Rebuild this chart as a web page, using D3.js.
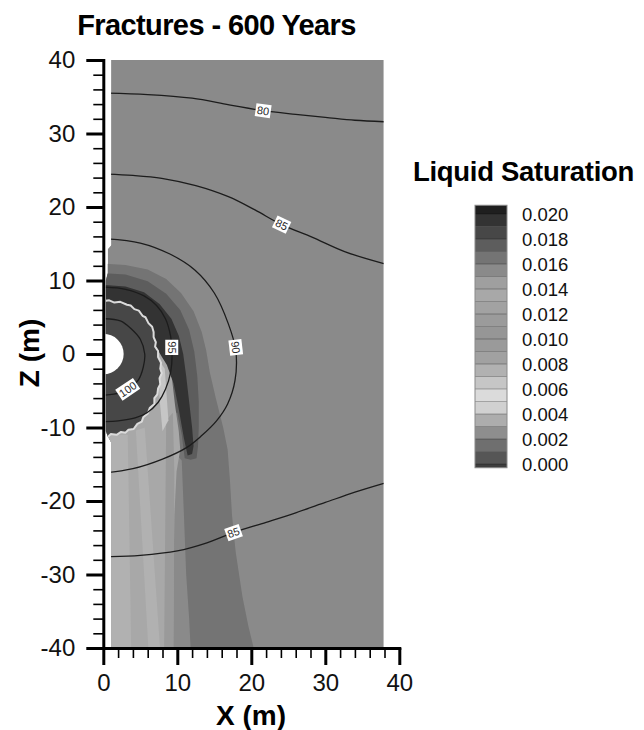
<!DOCTYPE html>
<html><head><meta charset="utf-8">
<script src="https://cdn.jsdelivr.net/npm/d3@7"></script>
<style>
html,body{margin:0;padding:0;background:#fff}
svg{display:block}
text{font-family:"Liberation Sans",Arial,Helvetica,sans-serif}
</style>
</head><body>
<svg id="chart" width="644" height="730"></svg>
<script>
// ---------------- data ----------------
const xTicks = [0, 10, 20, 30, 40];
const zTicks = [-40, -30, -20, -10, 0, 10, 20, 30, 40];
const xMinorTicks = [2,4,6,8,12,14,16,18,22,24,26,28,32,34,36,38];
const zMinorTicks = [-38,-36,-34,-32,-28,-26,-24,-22,-18,-16,-14,-12,-8,-6,-4,-2,2,4,6,8,12,14,16,18,22,24,26,28,32,34,36,38];

// liquid saturation contour levels and legend colours (index 0 = below 0.000)
const legendLevels = [0.000,0.001,0.002,0.003,0.004,0.005,0.006,0.007,0.008,0.009,0.010,
                      0.011,0.012,0.013,0.014,0.015,0.016,0.017,0.018,0.019,0.020];
const legendLabels = [0.000,0.002,0.004,0.006,0.008,0.010,0.012,0.014,0.016,0.018,0.020];
const legendColors = ["#3e3e3e","#565656","#6f6f6f","#8e8e8e","#adadad","#d1d1d1","#dbdbdb",
                      "#c6c6c6","#b1b1b1","#a1a1a1","#9a9a9a","#969696","#9b9b9b","#a2a2a2",
                      "#a8a8a8","#9f9f9f","#8a8a8a","#747474","#5d5d5d","#474747","#333333","#1f1f1f"];
const legendExtent = [-0.0003, 0.0207];

// mesh outline (x, z in metres)
const meshOutline = [[1.05,40],[37.9,40],[37.9,-40],[1.05,-40],[1.05,-12],[0.6,-11.2],[0.35,-10.5],
                     [0.35,10],[0.6,11],[0.6,14.3],[1.05,14.8]];
const drift = {x: 0, z: 0, r: 2.75};

// saturation zones: outline [x,z] and saturation value
const ambientSat = 0.0155;
const haloZone = [[0,12.3],[3,12.1],[6,11.5],[8.5,10.2],[10.5,8.3],[12.2,5.8],[13.3,3],[13.9,0.5],
  [14.4,-2.5],[15.2,-6],[16.2,-10],[16.8,-13],[17.1,-17],[17.4,-22],[17.9,-27],[18.8,-33],[19.6,-37],
  [20.8,-42],[9.3,-42],[9.3,-12],[0,-12]];
const haloSat = 0.0165;
const condensationZone = [[0,11.0],[3,10.8],[6,9.9],[8.5,8.2],[10.4,6],[11.6,3.3],[12.3,0.3],[12.7,-3],
  [12.9,-6.5],[12.9,-10],[12.8,-12.5],[12.6,-14.2],[11.8,-14.4],[11.0,-14.2],[10.6,-11],[10,-8],[0,-8]];
const condensationSat = 0.0175;
const refluxZone = [[0,9.4],[3,9.2],[5.5,8.4],[7.6,6.8],[9.2,4.8],[10.2,2.5],[10.8,0],[11.2,-3],
  [11.6,-6.5],[12.0,-10],[12.2,-12.5],[12.0,-13.6],[11.4,-13.8],[10.9,-11.5],[10.2,-7.5],[9.5,-4],
  [8.5,-1.5],[0,-1.5]];
const refluxSat = 0.0195;
const columnStrip = [[9.3,-13],[10.6,-14.5],[10.9,-22],[11.2,-30],[11.6,-36],[11.9,-42],[9.3,-42]];
const columnSat = 0.0155;
const drainageFan = [[7.0,1.2],[7.8,-0.2],[8.6,-1.5],[9.3,-3.5],[9.7,-7],[10.2,-10.5],[10.4,-13],
  [9.9,-16],[9.6,-22],[9.5,-30],[9.4,-42],[0,-42],[0,-8],[5,-8]];
const drainageSat = 0.0135;
const rayWest = [[0,-11],[3.3,-11],[3.8,-42],[0,-42]];
const rayWestSat = 0.0075;
const rayCentral = [[4.4,-10.4],[5.6,-10],[7.8,-42],[6.2,-42]];
const rayCentralSat = 0.0072;
const rayEast = [[7.5,-0.8],[8.3,-2],[8.8,-9],[8.0,-10.5],[7.6,-6]];
const rayEastSat = 0.0065;
const rayShade = [[8.5,-9],[9.4,-8],[9.6,-16],[9.5,-42],[8.2,-42],[8.4,-20]];
const rayShadeSat = 0.0095;
const dryoutZone = [[0,7.2],[0.8,7.3],[1.5,7.0],[2.3,7.1],[3.2,6.7],[3.7,6.6],[4.2,6.1],[4.8,5.9],
  [5.3,5.2],[5.7,5.0],[6.1,4.2],[6.6,3.7],[6.8,3.0],[6.8,2.3],[7.1,1.6],[7.0,1.0],[7.4,0.4],[7.4,-0.4],
  [7.8,-1.2],[7.7,-2.0],[7.9,-2.6],[7.6,-3.3],[7.7,-4.1],[7.4,-4.7],[7.3,-5.5],[6.9,-6.0],[6.9,-6.8],
  [6.3,-7.3],[6.0,-8.1],[5.4,-8.6],[5.2,-9.2],[4.6,-9.5],[4.1,-10.2],[3.4,-10.3],[3.0,-10.7],[2.4,-10.6],
  [1.8,-11.0],[1.0,-10.9],[0.6,-11.3],[0,-11.3]];
const dryoutSat = 0.0185;
const dryoutEdgeSat = 0.0055;

// temperature contours (deg C)
const iso80 = [[0,35.5],[6,35.3],[12,34.8],[17,33.9],[21.6,33.1],[26,32.6],[30,32.2],[34,31.8],[37.9,31.6]];
const iso85North = [[0,24.5],[4,24.3],[7.9,23.9],[12.5,22.9],[16.9,21.4],[20.5,19.6],[24.1,17.6],
  [28.2,15.9],[32.7,13.9],[37.9,12.3]];
const iso90 = [[0,15.7],[5,15.1],[9,13.6],[12.4,11.4],[15,8.3],[16.9,4.1],[17.9,0.5],[17.8,-3.6],
  [16.8,-6.8],[15.3,-9.1],[13.3,-11.1],[11.3,-12.7],[8,-14.3],[4,-15.6],[0,-16.2]];
const iso95 = [[0,9.1],[3,8.8],[5.5,7.9],[7.2,6.6],[8.4,4.8],[9.1,2.4],[9.3,0],[9.1,-2.5],[8.4,-4.8],
  [7.4,-6.6],[5.9,-8.0],[4.3,-8.7],[2,-9.1],[0,-9.2]];
const iso100 = [[0,4.8],[2.3,4.5],[3.8,3.4],[5.0,2.0],[5.6,0],[5.4,-1.8],[4.7,-3.6],[3.6,-4.6],[2.2,-5.3],[0,-5.6]];
const iso85South = [[0,-27.6],[5,-27.4],[10,-26.8],[14,-25.7],[17.6,-24.3],[22,-22.9],[26,-21.6],
  [30,-20.2],[34,-18.8],[37.9,-17.6]];
const isoLines = [iso80, iso85North, iso90, iso95, iso100, iso85South];
const isoLabels = [
  {line: iso80, text: "80", at: [21.6, 33.1]},
  {line: iso85North, text: "85", at: [24.1, 17.6]},
  {line: iso90, text: "90", at: [17.9, 0.9]},
  {line: iso95, text: "95", at: [9.25, 0.9]},
  {line: iso100, text: "100", at: [3.3, -4.8]},
  {line: iso85South, text: "85", at: [17.6, -24.3]}
];

// ---------------- drawing ----------------
const svg = d3.select("#chart");
const x = d3.scaleLinear().domain([0, 40]).range([103.3, 399.3]);
const y = d3.scaleLinear().domain([-40, 40]).range([648, 60]);
const color = d3.scaleThreshold().domain(legendLevels).range(legendColors);

const poly = d3.line().x(d => x(d[0])).y(d => y(d[1])).curve(d3.curveLinearClosed);
const curve = d3.line().x(d => x(d[0])).y(d => y(d[1])).curve(d3.curveCatmullRom.alpha(0.5));

const defs = svg.append("defs");
defs.append("clipPath").attr("id", "mesh").append("path").attr("d", poly(meshOutline));
defs.append("clipPath").attr("id", "plotRect").append("rect")
  .attr("x", x(0)).attr("y", y(40)).attr("width", x(40) - x(0)).attr("height", y(-40) - y(40));

const field = svg.append("g").attr("clip-path", "url(#mesh)");
field.append("path").attr("d", poly(meshOutline)).attr("fill", color(ambientSat));
const zones = [
  [haloZone, haloSat], [columnStrip, columnSat], [condensationZone, condensationSat],
  [refluxZone, refluxSat], [drainageFan, drainageSat], [rayWest, rayWestSat],
  [rayCentral, rayCentralSat], [rayShade, rayShadeSat], [rayEast, rayEastSat]
];
zones.forEach(([pts, s]) => field.append("path").attr("d", poly(pts)).attr("fill", color(s)));
field.append("path").attr("d", poly(dryoutZone)).attr("fill", color(dryoutSat))
  .attr("stroke", color(dryoutEdgeSat)).attr("stroke-width", 2).attr("stroke-linejoin", "round");

// drift opening
svg.append("g").attr("clip-path", "url(#plotRect)").append("ellipse")
  .attr("cx", x(drift.x)).attr("cy", y(drift.z))
  .attr("rx", x(drift.r) - x(0)).attr("ry", y(0) - y(drift.r)).attr("fill", "#fff");

// temperature contours
const lines = svg.append("g").attr("clip-path", "url(#mesh)");
isoLines.forEach(l => lines.append("path").attr("d", curve(l)).attr("fill", "none")
  .attr("stroke", "#1c1c1c").attr("stroke-width", 1.3));

// contour labels
const lab = svg.append("g");
isoLabels.forEach(L => {
  let best = 0, bd = Infinity;
  L.line.forEach((p, i) => { const d = (p[0]-L.at[0])**2 + (p[1]-L.at[1])**2; if (d < bd) { bd = d; best = i; } });
  const a = L.line[Math.max(0, best - 1)], b = L.line[Math.min(L.line.length - 1, best + 1)];
  let ang = Math.atan2(y(b[1]) - y(a[1]), x(b[0]) - x(a[0])) * 180 / Math.PI;
  if (ang > 90) ang -= 180; if (ang < -90) ang += 180;
  const g = lab.append("g").attr("transform", `translate(${x(L.at[0])},${y(L.at[1])}) rotate(${ang})`);
  const r = g.append("rect").attr("fill", "#fff");
  const t = g.append("text").attr("text-anchor", "middle").attr("dy", "0.36em")
    .attr("font-size", 11).attr("fill", "#2a2a2a").text(L.text);
  const w = t.node().getComputedTextLength() + 3;
  r.attr("x", -w / 2).attr("y", -6.5).attr("width", w).attr("height", 13);
});

// axes
const tickFont = 24;
const tickFmt = d => String(d);
function styleAxis(g, majorW) {
  g.selectAll(".tick line").attr("stroke", "#000").attr("stroke-width", majorW);
  g.selectAll(".tick text").attr("font-size", tickFont).attr("fill", "#111")
    .attr("font-family", '"Liberation Sans",Arial,Helvetica,sans-serif');
}
const yMinor = svg.append("g").attr("transform", `translate(${x(0)},0)`)
  .call(d3.axisLeft(y).tickValues(zMinorTicks).tickSize(10).tickFormat(""));
yMinor.select(".domain").remove(); styleAxis(yMinor, 1.6);
const xMinor = svg.append("g").attr("transform", `translate(0,${y(-40)})`)
  .call(d3.axisBottom(x).tickValues(xMinorTicks).tickSize(10).tickFormat(""));
xMinor.select(".domain").remove(); styleAxis(xMinor, 1.6);

const yAxis = svg.append("g").attr("transform", `translate(${x(0)},0)`)
  .call(d3.axisLeft(y).tickValues(zTicks).tickSize(17).tickSizeOuter(0).tickPadding(11).tickFormat(tickFmt));
styleAxis(yAxis, 3);
yAxis.select(".domain").attr("stroke", "#000").attr("stroke-width", 3).attr("stroke-linecap", "square");
const xAxis = svg.append("g").attr("transform", `translate(0,${y(-40)})`)
  .call(d3.axisBottom(x).tickValues(xTicks).tickSize(17).tickSizeOuter(0).tickPadding(9).tickFormat(tickFmt));
styleAxis(xAxis, 3);
xAxis.select(".domain").attr("stroke", "#000").attr("stroke-width", 3).attr("stroke-linecap", "square");

// titles
svg.append("text").attr("x", 216.5).attr("y", 35).attr("text-anchor", "middle")
  .attr("font-size", 29).attr("font-weight", "bold").attr("letter-spacing", -0.6).text("Fractures - 600 Years");
svg.append("text").attr("x", 251).attr("y", 725).attr("text-anchor", "middle")
  .attr("font-size", 28).attr("font-weight", "bold").text("X (m)");
svg.append("text").attr("transform", "translate(39,353) rotate(-90)").attr("text-anchor", "middle")
  .attr("font-size", 28).attr("font-weight", "bold").text("Z (m)");

// legend
const ly = d3.scaleLinear().domain([0, 0.020]).range([464, 214]);
const leg = svg.append("g");
leg.append("text").attr("x", 413).attr("y", 181).attr("font-size", 27.5).attr("font-weight", "bold")
  .attr("letter-spacing", -0.3).text("Liquid Saturation");
const edges = [legendExtent[0], ...legendLevels, legendExtent[1]];
for (let i = 0; i < edges.length - 1; i++) {
  const lo = edges[i], hi = edges[i + 1];
  leg.append("rect").attr("x", 475).attr("width", 32)
    .attr("y", ly(hi)).attr("height", ly(lo) - ly(hi))
    .attr("fill", color((lo + hi) / 2));
}
legendLevels.forEach(v => leg.append("line").attr("x1", 475).attr("x2", 507)
  .attr("y1", ly(v)).attr("y2", ly(v)).attr("stroke", "rgba(0,0,0,0.28)").attr("stroke-width", 1));
leg.append("rect").attr("x", 475).attr("width", 32).attr("y", ly(legendExtent[1]))
  .attr("height", ly(legendExtent[0]) - ly(legendExtent[1]))
  .attr("fill", "none").attr("stroke", "#8a8a8a").attr("stroke-width", 1);
legendLabels.forEach(v => leg.append("text").attr("x", 522).attr("y", ly(v)).attr("dy", "0.36em")
  .attr("font-size", 18.5).attr("fill", "#111").text(d3.format(".3f")(v)));
</script>
</body></html>
